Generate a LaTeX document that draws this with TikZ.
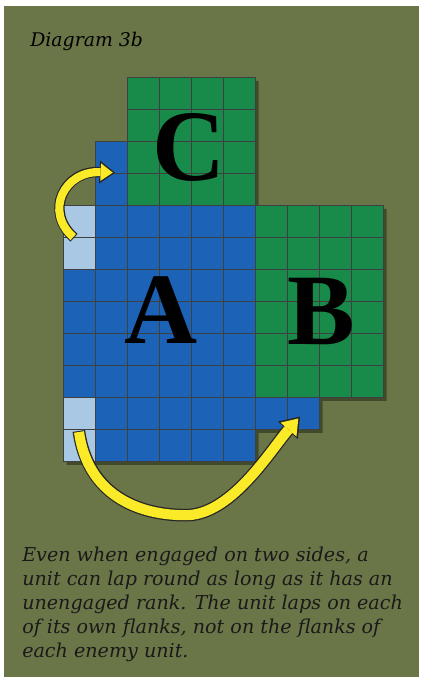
\documentclass[tikz,border=0pt]{standalone}
\usepackage{fontspec}
\setmainfont{DejaVu Serif}
\newfontfamily\letterfont{Liberation Serif}
\usepackage{tikz}
\usetikzlibrary{arrows.meta}
\definecolor{fieldolive}{RGB}{106,118,72}
\definecolor{shadowolive}{RGB}{40,46,26}
\definecolor{unitblue}{RGB}{28,98,182}
\definecolor{flankblue}{RGB}{168,200,228}
\definecolor{unitgreen}{RGB}{24,138,74}
\definecolor{lapyellow}{RGB}{250,234,40}

\tikzset{
  cellgrid/.style={draw=black!75, line width=0.5pt},
  unitletter/.style={anchor=base, inner sep=0pt, font=\letterfont\bfseries\fontsize{72}{72}\selectfont},
  lapedge/.style={draw=black!85, line width=#1},
  lapfill/.style={draw=lapyellow, line width=#1, shorten <=0.7pt}
}

\begin{document}
\begin{tikzpicture}[x=0.8cm, y=-0.8cm]

  \useasboundingbox (0,0) rectangle (13.1875,21.156);

  % Field
  \fill[white] (0,0) rectangle (13.1875,21.156);
  \fill[fieldolive] (0.125,0.19) rectangle (13.09,21.156);

  % Title
  \node[anchor=base west, inner sep=0pt, font=\itshape\fontsize{13.4}{16}\selectfont] (title)
    at (0.94,1.46) {Diagram 3b};

  \begin{scope}[shift={(1.984,2.428)}]

    % Shadow
    \fill[shadowolive, opacity=0.6, shift={(0.1,0.1)}]
      (2,0) -- (6,0) -- (6,4) -- (10,4) -- (10,10) -- (8,10) -- (8,11) -- (6,11)
      -- (6,12) -- (0,12) -- (0,4) -- (1,4) -- (1,2) -- (2,2) -- cycle;

    % Units
    \fill[unitgreen] (2,0) rectangle (6,4);
    \fill[unitgreen] (6,4) rectangle (10,10);
    \fill[unitblue] (1,2) rectangle (2,4);
    \fill[unitblue] (0,4) rectangle (6,12);
    \fill[unitblue] (6,10) rectangle (8,11);
    \fill[flankblue] (0,4) rectangle (1,6);
    \fill[flankblue] (0,10) rectangle (1,12);

    % Cell lines
    \begin{scope}
      \clip (2,0) -- (6,0) -- (6,4) -- (10,4) -- (10,10) -- (8,10) -- (8,11) -- (6,11)
        -- (6,12) -- (0,12) -- (0,4) -- (1,4) -- (1,2) -- (2,2) -- cycle;
      \foreach \gx in {1,...,9}
        \draw[cellgrid] (\gx,0) -- (\gx,12);
      \foreach \gy in {1,...,11}
        \draw[cellgrid] (0,\gy) -- (10,\gy);
    \end{scope}
    \draw[cellgrid]
      (2,0) -- (6,0) -- (6,4) -- (10,4) -- (10,10) -- (8,10) -- (8,11) -- (6,11)
      -- (6,12) -- (0,12) -- (0,4) -- (1,4) -- (1,2) -- (2,2) -- cycle;

    % Unit letters
    \node[unitletter] (unitA) at (3.05,8.3) {A};
    \node[unitletter] (unitB) at (8.05,8.35) {B};
    \node[unitletter] (unitC) at (3.92,3.2) {C};

    % Lap arrows
    \coordinate (upTail)  at (0.33,5.0);
    \coordinate (upTip)   at (1.61,2.97);
    \coordinate (lowTail) at (0.48,11.04);
    \coordinate (lowMid)  at (3.9,13.67);
    \coordinate (lowTip)  at (7.39,10.59);

    \draw[lapedge=7.4pt, -{Triangle[length=11pt, width=16.5pt, line width=0pt]}]
      (upTail) .. controls (-0.6,4.2) and (0.0,2.9) .. (upTip);
    \draw[lapfill=5.8pt, shorten >=1.6pt, -{Triangle[length=8.6pt, width=12.5pt, line width=0pt]}]
      (upTail) .. controls (-0.6,4.2) and (0.0,2.9) .. (upTip);

    \draw[lapedge=9pt, -{Triangle[length=13pt, width=19pt, line width=0pt]}]
      (lowTail) .. controls (0.75,13.0) and (2.3,13.7) .. (lowMid)
      .. controls (5.3,13.6) and (6.5,11.6) .. (lowTip);
    \draw[lapfill=7.2pt, shorten >=1.8pt, -{Triangle[length=10.5pt, width=15pt, line width=0pt]}]
      (lowTail) .. controls (0.75,13.0) and (2.3,13.7) .. (lowMid)
      .. controls (5.3,13.6) and (6.5,11.6) .. (lowTip);

  \end{scope}

  % Caption
  \node[anchor=base west, inner sep=0pt, align=left, text=black!90,
        font=\itshape\fontsize{13.6}{17.07}\selectfont] (caption) at (0.6875,20.56)
    {Even when engaged on two sides, a\\
     unit can lap round as long as it has an\\
     unengaged rank. The unit laps on each\\
     of its own flanks, not on the flanks of\\
     each enemy unit.};

\end{tikzpicture}
\end{document}
